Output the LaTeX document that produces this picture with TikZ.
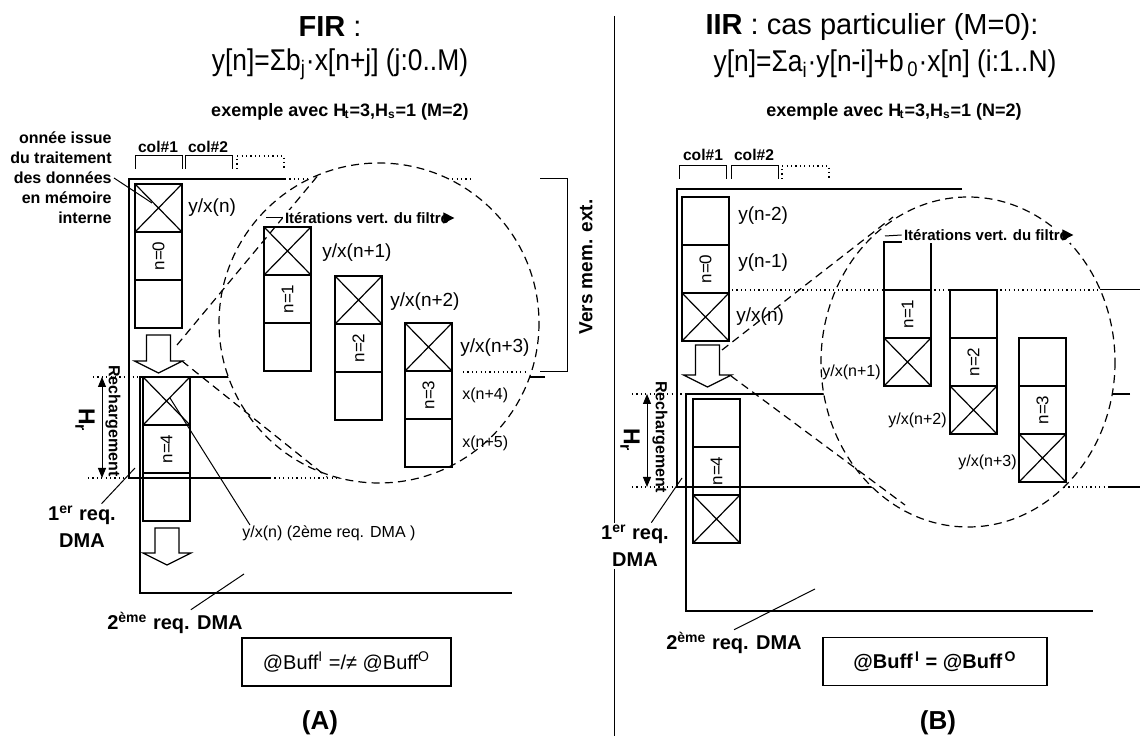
\documentclass[tikz,border=0pt]{standalone}
\usepackage{fontspec}
\setmainfont{Liberation Sans}
\newfontfamily\narrowsf[FakeStretch=0.88]{Liberation Sans}
\usetikzlibrary{arrows.meta}
\tikzset{
  >={Triangle[length=5pt,width=4pt]},
  buf/.style={line width=1.1pt},
  cell/.style={line width=0.6pt},
  thin/.style={line width=0.5pt},
  dots/.style={line width=0.6pt,dash pattern=on 0.6pt off 1.6pt},
  lens/.style={line width=0.6pt,dash pattern=on 4pt off 2.6pt},
  ttl/.style={font=\fontsize{14.5}{16}\selectfont},
  frm/.style={font=\narrowsf\fontsize{15}{17}\selectfont},
  exm/.style={font=\bfseries\fontsize{9}{11}\selectfont},
  collab/.style={font=\bfseries\fontsize{7.8}{9}\selectfont,inner sep=0pt},
  info/.style={font=\bfseries\fontsize{8}{10}\selectfont,align=right,inner sep=1pt},
  lbl/.style={font=\fontsize{9.5}{11}\selectfont,inner sep=0pt},
  slbl/.style={font=\fontsize{8}{10}\selectfont,inner sep=0pt},
  nlab/.style={rotate=90,font=\fontsize{8.5}{10}\selectfont,inner sep=0pt},
  req/.style={font=\bfseries\fontsize{10}{13.5}\selectfont,align=center,inner sep=1pt},
  rech/.style={rotate=-90,font=\bfseries\fontsize{8}{10}\selectfont,inner sep=0pt},
  hr/.style={rotate=-90,font=\bfseries\fontsize{11.5}{13}\selectfont,inner sep=0pt},
  iter/.style={font=\bfseries\fontsize{7.5}{9}\selectfont,fill=white,inner sep=1pt},
  vers/.style={rotate=90,font=\bfseries\fontsize{9.5}{11}\selectfont,inner sep=0pt},
  buffbox/.style={draw,line width=0.7pt,minimum height=24pt,inner sep=2pt},
  lettr/.style={font=\bfseries\fontsize{13}{15}\selectfont},
  tip/.style={-{Triangle[length=5.5pt,width=5.5pt]}},
}
% crossed cell, top-left corner given
\newcommand{\xbox}[2]{%
  \draw[cell] (#1,#2) rectangle ++(47,48);
  \draw[cell] (#1,#2) -- ++(47,48) ++(-47,0) -- ++(47,-48);
}
% FIR column: crossed cell on top
\newcommand{\fircol}[4]{%
  \xbox{#1}{#2}
  \draw[cell] (#1,#2+48) rectangle ++(47,48);
  \node[nlab] (#4) at (#1+23.5,#2+72) {n=#3};
  \draw[cell] (#1,#2+96) rectangle ++(47,48);
}
% IIR column: crossed cell at the bottom
\newcommand{\iircol}[4]{%
  \draw[cell] (#1,#2) rectangle ++(47,48);
  \draw[cell] (#1,#2+48) rectangle ++(47,48);
  \node[nlab] (#4) at (#1+23.5,#2+72) {n=#3};
  \xbox{#1}{#2+96}
}
% open bracket above a column
\newcommand{\colbrk}[3]{\draw[#3] (#1,#2+13) -- (#1,#2) -- (#1+47,#2) -- (#1+47,#2+13);}
% hollow block arrow: centre x, top y, tip y
\newcommand{\dmaarrow}[3]{%
  \draw[cell,fill=white] (#1-12,#2) -- (#1+12,#2) -- (#1+12,#3-12) -- (#1+24,#3-12)
    -- (#1,#3) -- (#1-24,#3-12) -- (#1-12,#3-12) -- cycle;
}
\begin{document}
\begin{tikzpicture}[x=0.5pt,y=-0.5pt]
\useasboundingbox (0,0) rectangle (1140,742);

\coordinate (divT) at (614,16); \coordinate (divB) at (614,736);
\draw[thin] (divT) -- (divB);

% ================= (A) FIR =================
\node[ttl] (firT) at (330,27) {\textbf{FIR} :};
\node[frm] (firF) at (340,64) {y[n]=Σb\textsubscript{j}·x[n+j] (j:0..M)};
\node[exm] (exA) at (340,112) {exemple avec H\kern-.1em\textsubscript{t}=3,H\textsubscript{s}=1 (M=2)};
\node[collab] (c1A) at (158,147) {col\#1};
\node[collab] (c2A) at (208,147) {col\#2};
\colbrk{135}{156}{thin} \colbrk{185}{156}{thin} \colbrk{237}{156}{dots}

\node[info,anchor=east] (infoA) at (114,178) {onnée issue\\du traitement\\des données\\en mémoire\\interne};
\coordinate (srcA) at (152,203);
\draw[thin] (infoA.east) -- (srcA);

\draw[buf] (285,179) -- (129,179) -- (129,478) -- (270,478);
\draw[dots] (285,179) -- (470,179);
\draw[dots] (270,478) -- (345,478);
\draw[buf] (545,377) -- (140,377) -- (140,593) -- (512,593);
\draw[dots] (93,377) -- (140,377);
\draw[dots] (88,478) -- (129,478);

\fircol{135}{184}{0}{nA0}
\node[lbl,anchor=west] (yA0) at (188,208) {y/x(n)};
\dmaarrow{158.5}{335}{373}
\fircol{143}{377}{4}{nA4}
\dmaarrow{167}{528}{565}

\coordinate (hrAt) at (102,377); \coordinate (hrAb) at (102,478);
\draw[thin,<->] (hrAt) -- (hrAb);
\node[hr] (hrA) at (85,420) {H\textsubscript{r}};
\node[rech] (rechA) at (113,421) {Rechargement};

\node[req] (req1A) at (82,527) {1\textsuperscript{er} req.\\DMA};
\coordinate (dma1A) at (135,468);
\draw[thin] (req1A.50) -- (dma1A);
\node[req] (req2A) at (175,623) {2\textsuperscript{ème} req. DMA};
\coordinate (dma2A) at (244,574);
\draw[thin] (req2A.40) -- (dma2A);
\node[slbl,anchor=west] (dmaA) at (242,533) {y/x(n) (2ème req. DMA )};
\coordinate (x4A) at (170,398);
\draw[thin] (x4A) -- ([xshift=4pt]dmaA.north west);

\node[buffbox,font=\fontsize{10}{12}\selectfont,minimum width=104.5pt] (bufA) at (346.5,662) {@Buff\textsuperscript{I} =/≠ @Buff\textsuperscript{O}};
\node[lettr] (labA) at (320,723) {(A)};

% magnified view (A)
\draw[lens,fill=white] (379,323) circle[radius=160];
\coordinate (tA1) at (177,345); \coordinate (tA2) at (320,173);
\coordinate (tA3) at (182,361); \coordinate (tA4) at (327,477);
\draw[lens] (tA1) -- (tA2);
\draw[lens] (tA3) -- (tA4);
\fircol{264}{227}{1}{nA1}
\fircol{335}{276}{2}{nA2}
\fircol{405}{323}{3}{nA3}
\node[lbl,anchor=west] (yA1) at (322,253) {y/x(n+1)};
\node[lbl,anchor=west] (yA2) at (390,302) {y/x(n+2)};
\node[lbl,anchor=west] (yA3) at (460,348) {y/x(n+3)};
\node[slbl,anchor=west] (yA4) at (462,395) {x(n+4)};
\node[slbl,anchor=west] (yA5) at (462,443) {x(n+5)};
\draw[dots] (463,372) -- (525,372);
\coordinate (itAs) at (266,218);
\node[iter] (itA) at (367,218) {Itérations vert. du filtre};
\draw[thin] (itAs) -- (itA.west);
\draw[thin,tip] ([xshift=-4pt]itA.east) -- ([xshift=1.5pt]itA.east);

\draw[thin] (540,179) -- (567,179) -- (567,372) -- (540,372);
\node[vers] (versA) at (586,267) {Vers mem. ext.};

% ================= (B) IIR =================
\node[ttl] (iirT) at (872,27) {\textbf{IIR} : cas particulier (M=0):};
\node[frm] (iirF) at (885,64) {y[n]=Σa\textsubscript{i}·y[n-i]+b\textsubscript{\,0}·x[n] (i:1..N)};
\node[exm] (exB) at (894,112) {exemple avec H\kern-.1em\textsubscript{t}=3,H\textsubscript{s}=1 (N=2)};
\node[collab] (c1B) at (703,155) {col\#1};
\node[collab] (c2B) at (754,155) {col\#2};
\colbrk{679}{166}{thin} \colbrk{731}{166}{thin} \colbrk{782}{166}{dots}

\draw[buf] (962,189) -- (677,189) -- (677,487) -- (1064,487);
\draw[dots] (1064,487) -- (1105,487);
\draw[buf] (1108,487) -- (1140,487);
\draw[buf] (1130,394) -- (686,394) -- (686,611) -- (1093,611);
\draw[dots] (632,394) -- (686,394);
\draw[dots] (632,487) -- (677,487);

\iircol{682}{197}{0}{nB0}
\node[lbl,anchor=west] (yB0a) at (738,216) {y(n-2)};
\node[lbl,anchor=west] (yB0b) at (738,263) {y(n-1)};
\node[lbl,anchor=west] (yB0c) at (736,317) {y/x(n)};
\dmaarrow{707.5}{345}{387}
\iircol{693}{399}{4}{nB4}

\coordinate (hrBt) at (647,394); \coordinate (hrBb) at (647,487);
\draw[thin,<->] (hrBt) -- (hrBb);
\node[hr] (hrB) at (630,440) {H\textsubscript{r}};
\node[rech] (rechB) at (660,437) {Rechargement};

\node[req,fill=white] (req1B) at (635,546) {1\textsuperscript{er} req.\\DMA};
\coordinate (dma1B) at (682,478);
\draw[thin] (req1B.55) -- (dma1B);
\node[req] (req2B) at (734,643) {2\textsuperscript{ème} req. DMA};
\coordinate (dma2B) at (815,589);
\draw[thin] (req2B.north) -- (dma2B);

\node[buffbox,font=\bfseries\fontsize{10}{12}\selectfont,minimum width=112pt] (bufB) at (935,661.5) {@Buff\textsuperscript{\,I} = @Buff\textsuperscript{\,O}};
\node[lettr] (labB) at (938,723) {(B)};

% magnified view (B)
\draw[lens,fill=white] (968,362) ellipse[x radius=147,y radius=165];
\coordinate (tB1) at (722,350); \coordinate (tB2) at (893,217);
\coordinate (tB3) at (731,376); \coordinate (tB4) at (905,505);
\draw[lens] (tB1) -- (tB2);
\draw[lens] (tB3) -- (tB4);
\draw[dots] (732,290) -- (1100,290);
\draw[thin] (1100,290) -- (1140,290);
\iircol{884}{242}{1}{nB1}
\iircol{950}{290}{2}{nB2}
\iircol{1019}{338}{3}{nB3}
\node[slbl,anchor=east] (yB1) at (881,372) {y/x(n+1)};
\node[slbl,anchor=east] (yB2) at (947,420) {y/x(n+2)};
\node[slbl,anchor=east] (yB3) at (1017,462) {y/x(n+3)};
\coordinate (itBs) at (885,236);
\node[iter] (itB) at (986,235) {Itérations vert. du filtre};
\draw[thin] (itBs) -- (itB.west);
\draw[thin,tip] ([xshift=-4pt]itB.east) -- ([xshift=1.5pt]itB.east);

\end{tikzpicture}
\end{document}
